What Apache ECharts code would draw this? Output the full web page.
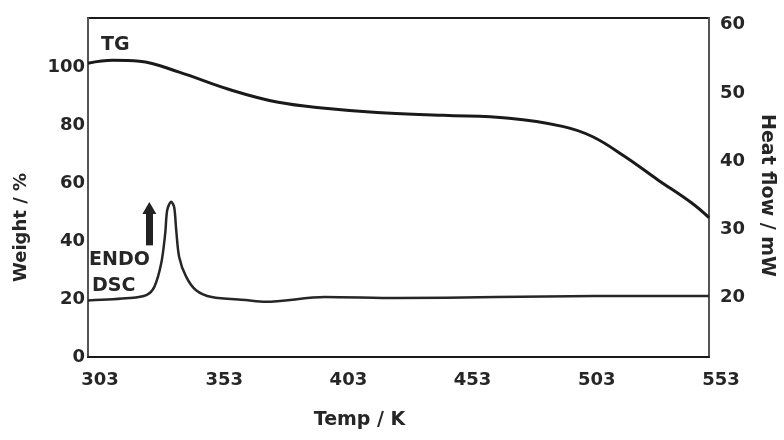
<!DOCTYPE html>
<html>
<head>
<meta charset="utf-8">
<script src="https://cdn.jsdelivr.net/npm/echarts@6/dist/echarts.min.js"></script>
<style>
html,body{margin:0;padding:0;background:#fff;overflow:hidden;}
#chart{width:784px;height:440px;}
</style>
</head>
<body>
<div id="chart"></div>
<script>
// Temperature ticks (K)
const xTicks = [303, 353, 403, 453, 503, 553];
const weightTicks = [0, 20, 40, 60, 80, 100];
const heatTicks = [20, 30, 40, 50, 60];

// TG curve: temperature (K) and weight (%)
const tgTemp   = [303, 313, 323.7, 339.7, 359.6, 379.6, 399.5, 419.4, 446.1, 472.5, 494, 506, 519.1, 532.3, 545.8, 553];
const tgWeight = [101.4, 102.4, 102.1, 98.3, 92.4, 87.9, 85.8, 84.4, 83.4, 82.4, 79.6, 76.1, 69.2, 61.2, 53.3, 48.1];

// DSC curve: temperature (K) and heat flow (mW)
const dscTemp = [303, 319.7, 326.5, 329.7, 332.5, 334.1, 334.9, 336.5, 337.7, 338.5, 339.7, 342.5, 346.5, 352.8, 366.4, 374.4, 398.3, 427.4, 467.3, 507.1, 553];
const dscHeat = [19.5, 19.85, 20.3, 21.5, 25.0, 29.4, 32.8, 34.0, 33.2, 29.9, 25.9, 23.0, 21.0, 20.0, 19.56, 19.3, 20.0, 19.85, 20.0, 20.15, 20.15];

// ENDO arrow (temperature, heat flow from -> to)
const endoArrow = [[327.7, 27.6], [327.7, 33.1]];

const zip = (a, b) => a.map((v, i) => [v, b[i]]);
const FONT = '"DejaVu Sans", "Liberation Sans", Arial, sans-serif';
const TXT = '#262626';

const chart = echarts.init(document.getElementById('chart'), null, {renderer: 'canvas'});
chart.setOption({
  backgroundColor: '#fff',
  animation: false,
  grid: {left: 88, right: 69, top: 18, bottom: 83, show: true, borderColor: '#1a1a1a', borderWidth: 2, backgroundColor: 'transparent'},
  xAxis: {
    type: 'value', min: 303, max: 553,
    name: 'Temp / K', nameLocation: 'middle', nameGap: 54,
    nameTextStyle: {fontFamily: FONT, fontWeight: 'bold', fontSize: 19, color: TXT, padding: [0, 78, 0, 0]},
    axisLine: {show: true, lineStyle: {color: '#1a1a1a', width: 2}},
    axisTick: {show: false},
    splitLine: {show: false},
    axisLabel: {customValues: xTicks, fontFamily: FONT, fontWeight: 'bold', fontSize: 18, color: TXT, margin: 14, padding: [0, 0, 0, 24]}
  },
  yAxis: [{
    type: 'value', min: 0, max: 117, position: 'left',
    name: 'Weight / %', nameLocation: 'middle', nameGap: 58, nameRotate: 90,
    nameTextStyle: {fontFamily: FONT, fontWeight: 'bold', fontSize: 18, color: TXT, padding: [0, 80, 0, 0]},
    axisLine: {show: true, lineStyle: {color: '#555', width: 2}},
    axisTick: {show: false},
    splitLine: {show: false},
    axisLabel: {customValues: weightTicks, fontFamily: FONT, fontWeight: 'bold', fontSize: 18, color: TXT, margin: 3}
  }, {
    type: 'value', min: 11.2, max: 61, position: 'right',
    name: 'Heat flow / mW', nameLocation: 'middle', nameGap: 48, nameRotate: -90,
    nameTextStyle: {fontFamily: FONT, fontWeight: 'bold', fontSize: 19, color: TXT, padding: [0, 0, 0, 16]},
    axisLine: {show: true, lineStyle: {color: '#555', width: 2}},
    axisTick: {show: false},
    splitLine: {show: false},
    axisLabel: {customValues: heatTicks, fontFamily: FONT, fontWeight: 'bold', fontSize: 18, color: TXT, margin: 11}
  }],
  series: [{
    name: 'TG', type: 'line', yAxisIndex: 0, data: zip(tgTemp, tgWeight),
    smooth: 0.4, showSymbol: false,
    lineStyle: {color: '#1a1a1a', width: 3}
  }, {
    name: 'DSC', type: 'line', yAxisIndex: 1, data: zip(dscTemp, dscHeat),
    smooth: 0.3, showSymbol: false,
    lineStyle: {color: '#262626', width: 2.5},
    markLine: {
      silent: true, symbol: ['none', 'triangle'], symbolSize: [14, 12],
      label: {show: false},
      lineStyle: {color: '#222', width: 7, type: 'solid'},
      data: [[{coord: endoArrow[0]}, {coord: endoArrow[1]}]]
    }
  }],
  graphic: [
    {type: 'text', left: 101, top: 36, style: {text: 'TG', font: 'bold 19px ' + FONT, fill: TXT}},
    {type: 'text', left: 89, top: 251, style: {text: 'ENDO', font: 'bold 19px ' + FONT, fill: TXT}},
    {type: 'text', left: 92, top: 277, style: {text: 'DSC', font: 'bold 19px ' + FONT, fill: TXT}}
  ]
});
</script>
</body>
</html>
